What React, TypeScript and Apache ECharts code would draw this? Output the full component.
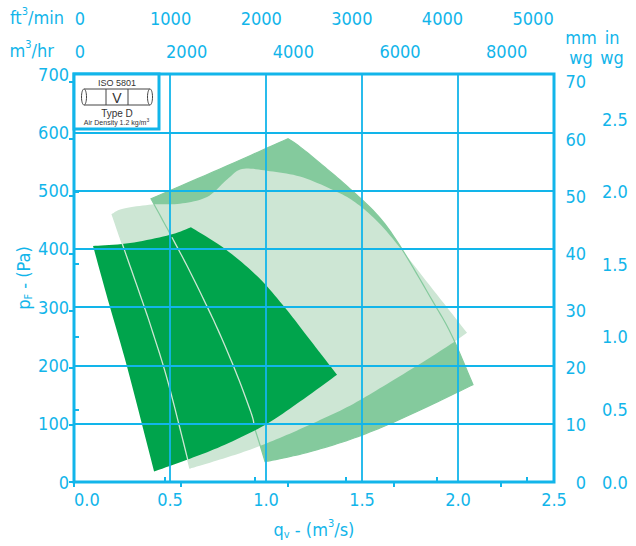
import React, { useEffect, useRef } from 'react';
import * as echarts from 'echarts';

const CYAN = '#12b5ea';
const FONT = '"Liberation Sans Narrow", "DejaVu Sans Condensed", sans-serif';
const BOXFONT = '"Liberation Sans", Arial, sans-serif';
const DARK = '#00a44c';
const MEDIUM = '#84ca9d';
const LIGHT = '#cde6d4';

// axis ticks
const xTicks = [0, 0.5, 1, 1.5, 2, 2.5];
const yTicks = [0, 100, 200, 300, 400, 500, 600, 700];
const cfmTicks = [0, 1000, 2000, 3000, 4000, 5000];
const m3hTicks = [0, 2000, 4000, 6000, 8000];
const mmwgTicks = [0, 10, 20, 30, 40, 50, 60, 70];
const inwgTicks = [0, 0.5, 1, 1.5, 2, 2.5];

const Q_MAX = 2.5; // m3/s
const P_MAX = 700; // Pa
const CFM_PER_M3S = 2118.88;
const M3H_PER_M3S = 3600;
const PA_PER_MMWG = 9.80665;
const PA_PER_INWG = 249.089;

// region edges: [qv m3/s, pF Pa]
const mediumTop = [[0.401, 486], [0.76, 537], [1.115, 589]];
const mediumRight = [[1.115, 589], [1.177, 575], [1.307, 540], [1.4375, 503], [1.583, 457], [1.698, 405], [1.865, 312], [1.964, 254], [2.078, 167]];
const mediumBottom = [[2.078, 167], [1.87, 134], [1.646, 100], [1.4375, 73], [1.229, 52], [1.073, 40], [0.995, 35]];
const mediumLeft = [[0.995, 35], [0.948, 85], [0.844, 188], [0.75, 261], [0.677, 312], [0.594, 367.5], [0.5, 426], [0.401, 486]];

const lightTop = [[0.198, 460], [0.255, 469], [0.406, 476], [0.552, 477.5], [0.693, 489], [0.797, 519], [0.875, 537], [1.005, 534], [1.177, 524], [1.349, 501], [1.464, 480], [1.583, 446], [1.698, 402], [1.87, 330], [2.047, 256]];
const lightCut = [[2.047, 256], [1.974, 239]];
const lightBottom = [[1.974, 239], [1.818, 206], [1.609, 164], [1.4375, 131], [1.266, 104], [1.089, 78], [0.917, 55.5], [0.76, 38.4], [0.604, 23]];
const lightLeft = [[0.604, 23], [0.49, 171], [0.406, 261], [0.354, 312], [0.25, 410], [0.198, 460]];

const darkTop = [[0.099, 405], [0.292, 410], [0.5, 424], [0.609, 437]];
const darkRight = [[0.609, 437], [0.786, 400], [0.958, 352], [1.099, 299], [1.229, 244], [1.37, 184]];
const darkBottom = [[1.37, 184], [1.177, 138], [0.995, 98], [0.786, 64], [0.604, 40], [0.417, 18]];
const darkLeft = [[0.417, 18], [0.276, 198], [0.177, 312], [0.099, 405]];

const mediumEdgeInDark = [[0.51, 420], [0.594, 367.5], [0.677, 312], [0.75, 261], [0.844, 188], [0.922, 119], [0.9375, 99]];

// Catmull-Rom through pixel points (rendering only)
function curve(pts: number[][], seg = 10): number[][] {
  if (pts.length < 3) return pts.map((p) => [p[0], p[1]]);
  const out: number[][] = [];
  for (let i = 0; i < pts.length - 1; i++) {
    const p0 = pts[i - 1] || pts[i];
    const p1 = pts[i];
    const p2 = pts[i + 1];
    const p3 = pts[i + 2] || pts[i + 1];
    for (let s = 0; s < seg; s++) {
      const t = s / seg, t2 = t * t, t3 = t2 * t;
      const f = (a: number, b: number, c: number, d: number) =>
        0.5 * (2 * b + (-a + c) * t + (2 * a - 5 * b + 4 * c - d) * t2 + (-a + 3 * b - 3 * c + d) * t3);
      out.push([f(p0[0], p1[0], p2[0], p3[0]), f(p0[1], p1[1], p2[1], p3[1])]);
    }
  }
  out.push(pts[pts.length - 1]);
  return out;
}

const regionSeries = (name: string, edges: number[][][], style: any, z: number, closed = true) => {
  const all = ([] as number[][]).concat(...edges);
  return {
    type: 'custom',
    name,
    coordinateSystem: 'cartesian2d',
    xAxisIndex: 0,
    yAxisIndex: 0,
    z,
    silent: true,
    data: all,
    encode: { x: 0, y: 1 },
    renderItem: (params: any, api: any) => {
      if (params.dataIndex !== 0) return null;
      let pts: number[][] = [];
      edges.forEach((e, i) => {
        const c = curve(e.map((p) => api.coord(p)));
        pts = pts.concat(i === 0 ? c : c.slice(1));
      });
      return {
        type: closed ? 'polygon' : 'polyline',
        shape: { points: pts },
        style,
      };
    },
  };
};

const labelStyle = { color: CYAN, fontSize: 18, fontFamily: FONT };
const rich = {
  a: { color: CYAN, fontSize: 18, fontFamily: FONT, lineHeight: 22 },
  sub: { color: CYAN, fontSize: 11, fontFamily: FONT, lineHeight: 10, verticalAlign: 'bottom' },
  sup: { color: CYAN, fontSize: 11, fontFamily: FONT, lineHeight: 16, verticalAlign: 'top' },
};
const richG = {
  a: { fill: CYAN, fontSize: 18, fontFamily: FONT, lineHeight: 22 },
  sup: { fill: CYAN, fontSize: 11, fontFamily: FONT, lineHeight: 16, verticalAlign: 'top' },
};

export default function App() {
  const ref = useRef<HTMLDivElement>(null);
  useEffect(() => {
    if (!ref.current) return;
    const chart = echarts.init(ref.current, null, { renderer: 'svg' });
    const option: any = {
      animation: false,
      backgroundColor: '#ffffff',
      grid: {
        left: 74, right: 82, top: 74, bottom: 64,
        show: true, borderColor: CYAN, borderWidth: 3, backgroundColor: 'transparent',
      },
      xAxis: [
        {
          type: 'value', position: 'bottom', min: 0, max: Q_MAX, interval: 0.5, z: 10,
          axisLine: { show: false }, axisTick: { show: false },
          splitLine: { show: true, lineStyle: { color: CYAN, width: 1.8 } },
          axisLabel: { ...labelStyle, margin: 8, customValues: xTicks, alignMinLabel: 'left', formatter: (v: number) => v.toFixed(1) },
          name: '{a|q}{sub|v}{a| - (m}{sup|3}{a|/s)}',
          nameLocation: 'middle', nameGap: 36, nameMoveOverlap: false,
          nameTextStyle: { rich },
        },
        {
          type: 'value', position: 'top', offset: 43, min: 0, max: Q_MAX * CFM_PER_M3S,
          axisLine: { show: true, lineStyle: { color: CYAN, width: 2 } },
          axisTick: { show: true, length: 5, lineStyle: { color: CYAN, width: 2 }, customValues: cfmTicks },
          axisLabel: { ...labelStyle, margin: 4, padding: [0, 0, 0, 12], customValues: cfmTicks, showMinLabel: true, formatter: (v: number) => String(v) },
          splitLine: { show: false },
        },
        {
          type: 'value', position: 'top', offset: 43, min: 0, max: Q_MAX * M3H_PER_M3S,
          axisLine: { show: false },
          axisTick: { show: true, inside: true, length: 5, lineStyle: { color: CYAN, width: 2 }, customValues: m3hTicks },
          axisLabel: { ...labelStyle, inside: true, margin: 11, padding: [0, 0, 0, 12], customValues: m3hTicks, showMinLabel: true, formatter: (v: number) => String(v) },
          splitLine: { show: false },
        },
      ],
      yAxis: [
        {
          type: 'value', position: 'left', min: 0, max: P_MAX, interval: 100, z: 10,
          axisLine: { show: false }, axisTick: { show: false },
          splitLine: { show: true, lineStyle: { color: CYAN, width: 1.8 } },
          axisLabel: { ...labelStyle, margin: 5, customValues: yTicks, showMinLabel: true },
          name: '{a|p}{sub|F}{a| - (Pa)}',
          nameLocation: 'middle', nameGap: 40, nameRotate: 90, nameMoveOverlap: false,
          nameTextStyle: { rich },
        },
        {
          type: 'value', position: 'right', offset: 40, min: 0, max: P_MAX / PA_PER_MMWG,
          axisLine: { show: true, lineStyle: { color: CYAN, width: 2 } },
          axisTick: { show: true, inside: true, length: 5, lineStyle: { color: CYAN, width: 2 }, customValues: mmwgTicks },
          axisLabel: { ...labelStyle, inside: true, margin: 8, customValues: mmwgTicks, showMinLabel: true, showMaxLabel: true },
          splitLine: { show: false },
        },
        {
          type: 'value', position: 'right', offset: 40, min: 0, max: P_MAX / PA_PER_INWG,
          axisLine: { show: false },
          axisTick: { show: true, length: 5, lineStyle: { color: CYAN, width: 2 }, customValues: inwgTicks },
          axisLabel: { ...labelStyle, margin: 8, customValues: inwgTicks, showMinLabel: true, formatter: (v: number) => v.toFixed(1) },
          splitLine: { show: false },
        },
      ],
      series: [
        regionSeries('medium', [mediumTop, mediumRight, mediumBottom, mediumLeft], { fill: MEDIUM }, 1),
        regionSeries('light', [lightTop, lightCut, lightBottom, lightLeft], { fill: LIGHT }, 2),
        regionSeries('medium outline', [mediumTop, mediumRight, mediumBottom, mediumLeft], { fill: 'none', stroke: MEDIUM, lineWidth: 1.2 }, 3),
        regionSeries('dark', [darkTop, darkRight, darkBottom, darkLeft], { fill: DARK }, 4),
        regionSeries('light edge', [lightLeft], { fill: 'none', stroke: LIGHT, lineWidth: 1.3 }, 5, false),
        regionSeries('medium edge', [mediumEdgeInDark], { fill: 'none', stroke: LIGHT, lineWidth: 1.3 }, 5, false),
      ],
      graphic: [
        {
          type: 'text', z: 100, x: 64, y: 17,
          style: { text: '{a|ft}{sup|3}{a|/min}', rich: richG, align: 'right', verticalAlign: 'middle' },
        },
        {
          type: 'text', z: 100, x: 54, y: 50,
          style: { text: '{a|m}{sup|3}{a|/hr}', rich: richG, align: 'right', verticalAlign: 'middle' },
        },
        {
          type: 'text', z: 100, x: 581, y: 47,
          style: { text: 'mm\nwg', fill: CYAN, fontSize: 18, fontFamily: FONT, lineHeight: 20, align: 'center', verticalAlign: 'middle' },
        },
        {
          type: 'text', z: 100, x: 612, y: 47,
          style: { text: 'in\nwg', fill: CYAN, fontSize: 18, fontFamily: FONT, lineHeight: 20, align: 'center', verticalAlign: 'middle' },
        },
        {
          type: 'group', z: 100,
          children: [
            { type: 'rect', z: 100, shape: { x: 74, y: 74, width: 85, height: 55 }, style: { fill: '#ffffff', stroke: CYAN, lineWidth: 3 } },
            { type: 'text', z: 101, x: 117, y: 83, style: { text: 'ISO 5801', fill: '#333', fontSize: 9, fontFamily: BOXFONT, align: 'center', verticalAlign: 'middle' } },
            { type: 'line', z: 101, shape: { x1: 84, y1: 89, x2: 150, y2: 89 }, style: { stroke: '#444', lineWidth: 1 } },
            { type: 'line', z: 101, shape: { x1: 84, y1: 105, x2: 150, y2: 105 }, style: { stroke: '#444', lineWidth: 1 } },
            { type: 'ellipse', z: 101, shape: { cx: 84, cy: 97, rx: 2.5, ry: 8 }, style: { fill: '#fff', stroke: '#444', lineWidth: 1 } },
            { type: 'ellipse', z: 101, shape: { cx: 150, cy: 97, rx: 2.5, ry: 8 }, style: { fill: '#fff', stroke: '#444', lineWidth: 1 } },
            { type: 'line', z: 101, shape: { x1: 106, y1: 89, x2: 106, y2: 105 }, style: { stroke: '#444', lineWidth: 1 } },
            { type: 'line', z: 101, shape: { x1: 128, y1: 89, x2: 128, y2: 105 }, style: { stroke: '#444', lineWidth: 1 } },
            { type: 'text', z: 101, x: 117, y: 97.5, style: { text: 'V', fill: '#333', fontSize: 14, fontFamily: BOXFONT, align: 'center', verticalAlign: 'middle' } },
            { type: 'text', z: 101, x: 117, y: 113, style: { text: 'Type D', fill: '#333', fontSize: 10, fontFamily: BOXFONT, align: 'center', verticalAlign: 'middle' } },
            {
              type: 'text', z: 101, x: 116.5, y: 122,
              style: {
                text: '{t|Air Density 1.2 kg/m}{s|3}',
                rich: {
                  t: { fill: '#333', fontSize: 7, fontFamily: BOXFONT, lineHeight: 9 },
                  s: { fill: '#333', fontSize: 5, fontFamily: BOXFONT, lineHeight: 6, verticalAlign: 'top' },
                },
                align: 'center', verticalAlign: 'middle',
              },
            },
          ],
        },
      ],
    };
    chart.setOption(option);
    return () => chart.dispose();
  }, []);
  return <div ref={ref} style={{ position: 'fixed', left: 0, top: 0, width: 636, height: 546 }} />;
}
